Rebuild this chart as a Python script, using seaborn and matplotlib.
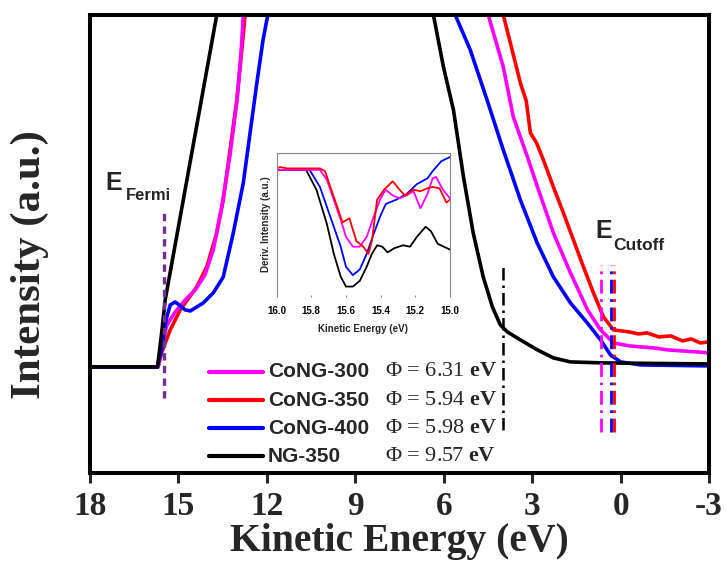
import matplotlib
matplotlib.use("Agg")
import matplotlib.pyplot as plt
import seaborn as sns

# main UPS spectra: kinetic energy (eV) and intensity (a.u.)
ng350_e = [18.0, 15.71, 15.57, 15.45, 13.70, 13.3, 10.0, 6.8, 6.35, 6.01, 5.67, 5.33, 5.00,
           4.66, 4.35, 4.08, 3.84, 3.40, 2.82, 2.28, 1.70, 0.58, -3.0]
ng350_i = [106, 106, 140, 173, 458, 520, 800, 520, 458, 406, 363, 296, 240,
           196, 166, 148, 141, 133, 123, 115, 111, 110, 109]

cong400_e = [18.0, 15.72, 15.57, 15.42, 15.28, 15.11, 14.94, 14.77, 14.60, 14.43, 14.16, 13.82,
             13.48, 13.14, 12.80, 12.57, 12.34, 12.13, 11.97, 11.6, 8.5, 5.9, 5.61, 5.10, 4.53,
             3.98, 3.40, 2.83, 2.28, 1.70, 1.13, 0.68, 0.34, 0.00, -0.68, -3.0]
cong400_i = [106, 106, 123, 153, 168, 171, 167, 163, 162, 165, 170, 180,
             196, 240, 290, 340, 390, 433, 458, 520, 800, 520, 458, 423, 373,
             323, 273, 230, 196, 170, 150, 133, 118, 111, 108, 107]

cong300_e = [18.0, 15.69, 15.56, 15.39, 15.11, 14.77, 14.43, 14.10, 13.82, 13.52, 13.25, 13.01,
             12.87, 12.80, 12.6, 8.5, 4.7, 4.49, 3.98, 3.64, 3.16, 2.82, 2.28, 1.70, 1.12,
             0.68, 0.24, -0.3, -0.7, -1.12, -1.6, -2.1, -2.6, -3.0]
cong300_i = [106, 106, 128, 148, 161, 173, 183, 198, 223, 268, 318, 373,
             423, 458, 520, 800, 520, 458, 406, 356, 316, 286, 240, 200, 163,
             143, 130, 127, 126, 125, 123, 122, 121, 120]

cong350_e = [18.0, 15.69, 15.56, 15.28, 14.94, 14.38, 14.04, 13.70, 13.48, 13.25, 13.02, 12.85,
             12.74, 12.5, 8.5, 4.2, 3.98, 3.74, 3.40, 3.20, 3.06, 2.85, 2.62, 2.28, 1.94, 1.60,
             1.26, 0.92, 0.58, 0.24, -0.3, -0.6, -0.9, -1.3, -1.7, -2.1, -2.4, -2.7, -3.0]
cong350_i = [106, 106, 121, 143, 163, 186, 206, 240, 273, 323, 373, 423,
             458, 520, 800, 520, 458, 430, 390, 372, 340, 330, 313, 286, 260, 233,
             206, 180, 156, 143, 141, 139, 140, 136, 137, 132, 134, 130, 131]

# inset: derivative of the Fermi edge
d_ng350_e = [16.00, 15.83, 15.77, 15.71, 15.67, 15.63, 15.60, 15.56, 15.52, 15.48, 15.45,
             15.42, 15.39, 15.36, 15.32, 15.27, 15.23, 15.19, 15.14, 15.11, 15.07, 15.00]
d_ng350_i = [0.88, 0.88, 0.74, 0.50, 0.29, 0.13, 0.06, 0.06, 0.10, 0.20, 0.29,
             0.35, 0.34, 0.30, 0.33, 0.35, 0.34, 0.41, 0.48, 0.45, 0.36, 0.32]
d_cong400_e = [16.00, 15.81, 15.75, 15.69, 15.63, 15.60, 15.56, 15.52, 15.48, 15.44, 15.40,
               15.37, 15.31, 15.25, 15.19, 15.13, 15.10, 15.05, 15.00]
d_cong400_i = [0.88, 0.88, 0.76, 0.55, 0.34, 0.20, 0.14, 0.18, 0.29, 0.43, 0.56,
               0.64, 0.67, 0.71, 0.78, 0.82, 0.87, 0.94, 0.97]
d_cong300_e = [16.00, 15.75, 15.71, 15.67, 15.63, 15.60, 15.56, 15.52, 15.48, 15.44, 15.40,
               15.37, 15.33, 15.29, 15.25, 15.21, 15.17, 15.13, 15.10, 15.08, 15.04, 15.00]
d_cong300_i = [0.88, 0.88, 0.81, 0.67, 0.53, 0.41, 0.34, 0.34, 0.41, 0.55, 0.68,
               0.74, 0.70, 0.68, 0.70, 0.73, 0.61, 0.71, 0.82, 0.83, 0.74, 0.68]
d_cong350_e = [16.00, 15.98, 15.94, 15.75, 15.72, 15.69, 15.65, 15.62, 15.58, 15.54, 15.50,
               15.47, 15.45, 15.42, 15.38, 15.33, 15.29, 15.26, 15.21, 15.17, 15.13, 15.10,
               15.06, 15.02, 15.00]
d_cong350_i = [0.89, 0.90, 0.89, 0.89, 0.87, 0.76, 0.62, 0.51, 0.54, 0.38, 0.34,
               0.29, 0.38, 0.67, 0.74, 0.80, 0.74, 0.70, 0.74, 0.73, 0.75, 0.76,
               0.75, 0.65, 0.67]

samples = ["CoNG-300", "CoNG-350", "CoNG-400", "NG-350"]
phi = ["6.31", "5.94", "5.98", "9.57"]
colors = ["#ff00ff", "#ff0000", "#0000ff", "#000000"]
e_fermi = 15.49
e_cut = {"CoNG-300": 0.66, "CoNG-400": 0.32, "CoNG-350": 0.23, "NG-350": 3.98}
x_ticks = [18, 15, 12, 9, 6, 3, 0, -3]
inset_ticks = [16.0, 15.8, 15.6, 15.4, 15.2, 15.0]

sns.set_theme(style="white")
plt.rcParams["font.family"] = ["Liberation Sans", "DejaVu Sans"]
plt.rcParams["mathtext.fontset"] = "custom"
plt.rcParams["mathtext.rm"] = "Liberation Serif"
plt.rcParams["mathtext.bf"] = "Liberation Serif:bold"

fig = plt.figure(figsize=(7.26, 5.61), dpi=100)
ax = fig.add_axes([0.124, 0.157, 0.8526, 0.8164])

spectra = {"CoNG-300": (cong300_e, cong300_i), "CoNG-350": (cong350_e, cong350_i),
           "CoNG-400": (cong400_e, cong400_i), "NG-350": (ng350_e, ng350_i)}
for name in ["CoNG-350", "CoNG-300", "CoNG-400", "NG-350"]:
    e, i = spectra[name]
    sns.lineplot(x=e, y=i, ax=ax, color=colors[samples.index(name)], lw=2.6, sort=False, estimator=None)

ax.set_xlim(18, -3)
ax.set_ylim(0, 458)
ax.set_yticks([])
ax.set_xticks(x_ticks)
ax.set_xticklabels([str(t) for t in x_ticks], family="Liberation Serif", weight="bold", fontsize=24)
ax.tick_params(axis="x", direction="out", length=7, width=2.2, pad=6, bottom=True)
for s in ax.spines.values():
    s.set_linewidth(2.9)
    s.set_color("black")
ax.set_xlabel("Kinetic Energy (eV)", family="Liberation Serif", weight="bold", fontsize=28.5, labelpad=1)
ax.set_ylabel("Intensity (a.u.)", family="Liberation Serif", weight="bold", fontsize=31)
ax.yaxis.set_label_coords(-0.066, 0.454)

# marker lines
ax.vlines(e_fermi, 75, 260, color="#70308f", lw=2.4, linestyles=(0, (2.2, 1.6)))
ax.vlines(e_cut["NG-350"], 43, 210, color="black", lw=1.8, linestyles=(0, (5, 2, 1, 2)))
for name in ["CoNG-300", "CoNG-400", "CoNG-350"]:
    c = colors[samples.index(name)]
    ax.vlines(e_cut[name], 41, 208, color=c, lw=2.0, linestyles=(0, (5, 2, 1, 2)))

ax.text(0.024, 0.618, "E", transform=ax.transAxes, fontsize=18, weight="bold", va="baseline")
ax.text(0.058, 0.596, "Fermi", transform=ax.transAxes, fontsize=12, weight="bold", va="baseline")
ax.text(0.816, 0.513, "E", transform=ax.transAxes, fontsize=18, weight="bold", va="baseline")
ax.text(0.845, 0.487, "Cutoff", transform=ax.transAxes, fontsize=12.5, weight="bold", va="baseline")

# legend rows
row_y = [372, 400.5, 428.5, 456.5]
for name, p, c, ypx in zip(samples, phi, colors, row_y):
    yf = (473 - ypx) / 458
    ax.plot([(209 - 90) / 619, (263 - 90) / 619], [yf, yf], transform=ax.transAxes, color=c, lw=3)
    ax.text((268 - 90) / 619, yf, name, transform=ax.transAxes, fontsize=15, weight="bold", va="center")
    ax.text((385 - 90) / 619, yf, "Φ = " + p + r" $\mathbf{eV}$", transform=ax.transAxes,
            family="Liberation Serif", fontsize=16, va="center")

# inset
ins = fig.add_axes([0.381, 0.474, 0.2387, 0.2537])
inset = [(d_ng350_e, d_ng350_i, colors[3]), (d_cong400_e, d_cong400_i, colors[2]),
         (d_cong300_e, d_cong300_i, colors[0]), (d_cong350_e, d_cong350_i, colors[1])]
for e, i, c in inset:
    sns.lineplot(x=e, y=i, ax=ins, color=c, lw=1.3, sort=False, estimator=None)
ins.set_xlim(16.0, 15.0)
ins.set_ylim(0, 1.0)
ins.set_yticks([])
ins.set_xticks(inset_ticks)
ins.set_xticklabels([f"{t:.1f}" for t in inset_ticks], fontsize=7, weight="bold")
ins.tick_params(axis="x", length=1.5, width=0.5, pad=6, colors="#555555", labelcolor="black", bottom=True)
for k, s in ins.spines.items():
    s.set_color("#888888")
    s.set_linewidth(0.8)
ins.spines["bottom"].set_visible(False)
ins.set_xlabel("Kinetic Energy (eV)", fontsize=7, weight="bold", labelpad=6)
ins.set_ylabel("Deriv. Intensity (a.u.)", fontsize=7, weight="bold", labelpad=4)

fig.savefig("out.png", dpi=100)
